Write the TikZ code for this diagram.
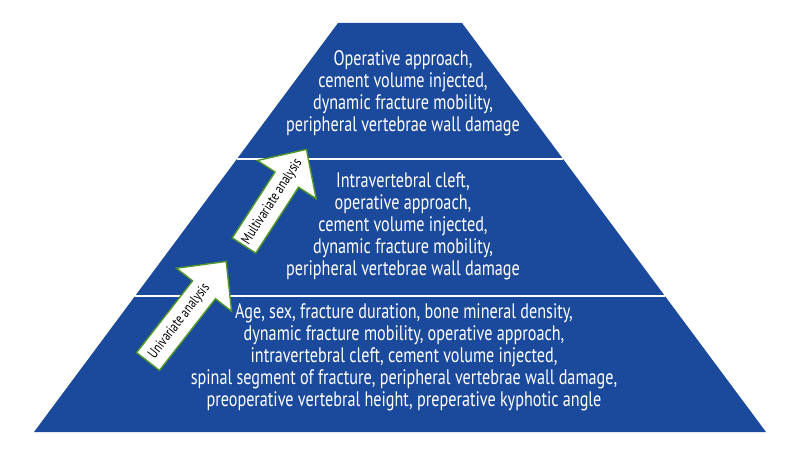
\documentclass[tikz,border=0pt]{standalone}
\usepackage{fontspec}
\setmainfont{PT Sans}[FakeStretch=0.77]
\definecolor{pyrblue}{RGB}{27,73,155}
\definecolor{arrgreen}{RGB}{80,150,40}
\begin{document}
\begin{tikzpicture}[x=1pt,y=-1pt,
  lvltext/.style={text=white, align=center, font=\fontsize{21}{22}\selectfont, inner sep=0pt},
  arrowlabel/.style={font=\fontsize{14.5}{16}\selectfont, text=black, inner sep=0pt},
  blockarrow/.style={fill=white, draw=arrgreen, line width=1.4pt, line join=miter}]
\useasboundingbox (0,0) rectangle (800,460);
\coordinate (tl) at (338,23);
\coordinate (tr) at (462,23);
\coordinate (br) at (766,432);
\coordinate (bl) at (34,432);
\fill[pyrblue] (tl) -- (tr) -- (br) -- (bl) -- cycle;
\coordinate (l1a) at (236.9,159);
\coordinate (l1b) at (563.1,159);
\coordinate (l2a) at (135.1,296);
\coordinate (l2b) at (664.9,296);
\draw[white, line width=2pt] (l1a) -- (l1b);
\draw[white, line width=2pt] (l2a) -- (l2b);
\node[lvltext] (toptext) at (403,93) {Operative approach,\\cement volume injected,\\dynamic fracture mobility,\\peripheral vertebrae wall damage};
\node[lvltext] (midtext) at (403,226) {Intravertebral cleft,\\operative approach,\\cement volume injected,\\dynamic fracture mobility,\\peripheral vertebrae wall damage};
\node[lvltext] (bottext) at (404,357) {Age, sex, fracture duration, bone mineral density,\\dynamic fracture mobility, operative approach,\\intravertebral cleft, cement volume injected,\\spinal segment of fracture, peripheral vertebrae wall damage,\\preoperative vertebral height, preperative kyphotic angle};
\begin{scope}[shift={(148,361.5)}, rotate=52]
  \draw[blockarrow] (0,-14.5) -- (91,-14.5) -- (91,-35) -- (127,0) -- (91,35) -- (91,14.5) -- (0,14.5) -- cycle;
  \node[arrowlabel, rotate=52] (uni) at (51,0) {Univariate analysis};
\end{scope}
\begin{scope}[shift={(244,245.5)}, rotate=57]
  \draw[blockarrow] (0,-14) -- (78.6,-14) -- (78.6,-35) -- (114.6,0) -- (78.6,35) -- (78.6,14) -- (0,14) -- cycle;
  \node[arrowlabel, rotate=57] (multi) at (52,0) {Multivariate analysis};
\end{scope}
\end{tikzpicture}
\end{document}
